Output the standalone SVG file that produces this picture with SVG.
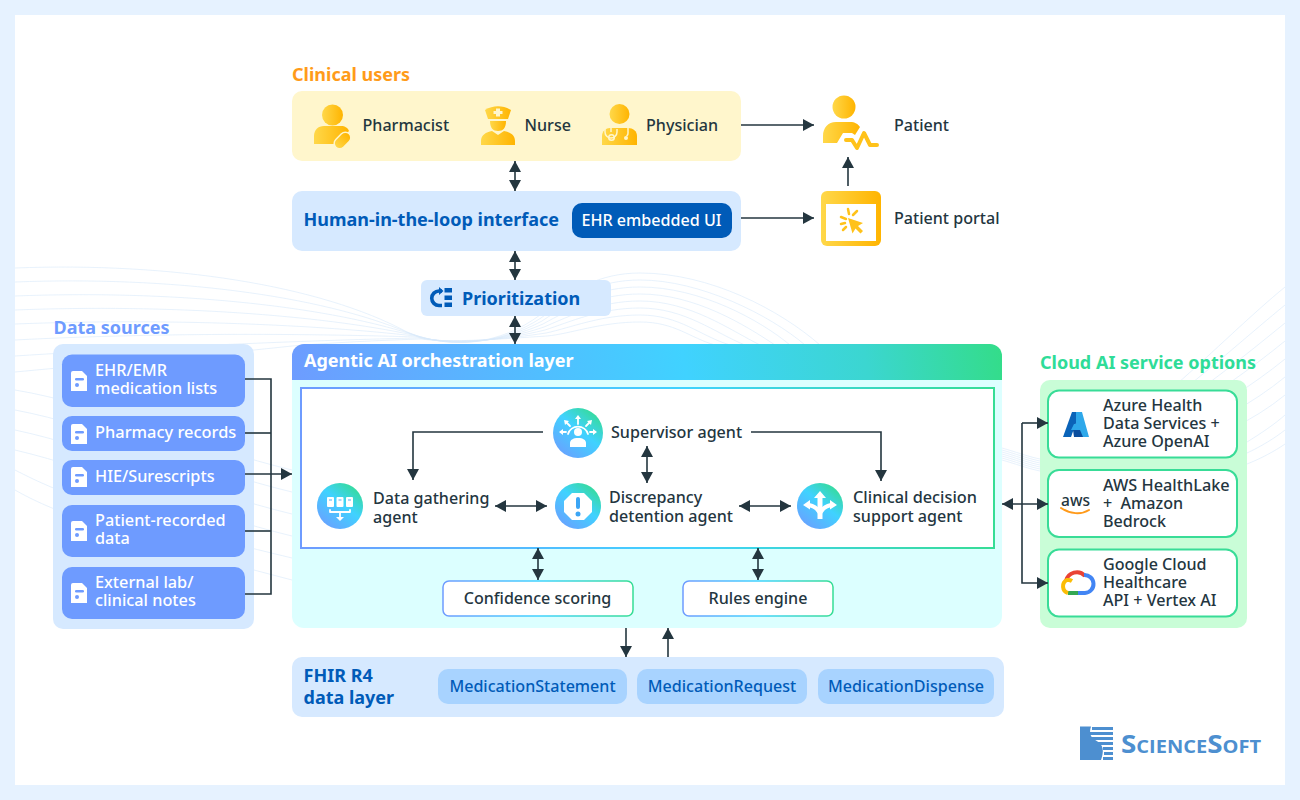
<svg xmlns="http://www.w3.org/2000/svg" width="1300" height="800" viewBox="0 0 1300 800">
<style>
text{font-family:"Noto Sans","Open Sans","Liberation Sans",sans-serif;font-size:16.1px;font-weight:500;fill:#24363f}
.h{font-size:18px;font-weight:700}
.w{fill:#fff}
.s{font-size:16.25px}
.b{fill:#005bb8}
.m{text-anchor:middle}
.con{fill:none;stroke:#24363f;stroke-width:1.6}
.one{marker-end:url(#ah)}
.two{marker-start:url(#ah);marker-end:url(#ah)}
.wave{fill:none;stroke:#d8e9fa;stroke-width:1;opacity:.6}
.src{fill:#6e9bff}
.cloud{fill:#fff;stroke:#38dc97;stroke-width:2}
.chip{fill:#a8d3ff}
.ico{fill:url(#gold)}
.wg{fill:#fff}
.wl{fill:none;stroke:#fff;stroke-width:1.8;stroke-linecap:round;stroke-linejoin:round}
</style>
<defs>
<marker id="ah" markerUnits="userSpaceOnUse" markerWidth="12" markerHeight="12" refX="11" refY="6" orient="auto-start-reverse"><path d="M0 0L11 6L0 12z" fill="#24363f"/></marker>
<linearGradient id="gold" x1="0" y1="0" x2="1" y2="0"><stop offset="0" stop-color="#ffd84a"/><stop offset="1" stop-color="#ffb400"/></linearGradient>
<linearGradient id="head" gradientUnits="userSpaceOnUse" x1="292" y1="420" x2="1002" y2="300"><stop offset="0" stop-color="#6e9bff"/><stop offset=".55" stop-color="#40d2ff"/><stop offset=".8" stop-color="#3bd6d0"/><stop offset="1" stop-color="#33dd85"/></linearGradient>
<linearGradient id="inner" gradientUnits="userSpaceOnUse" x1="301" y1="0" x2="994" y2="0"><stop offset="0" stop-color="#6e9bff"/><stop offset=".55" stop-color="#40d2ff"/><stop offset="1" stop-color="#36dd95"/></linearGradient>
<linearGradient id="small" x1="0" y1="0" x2="1" y2="0"><stop offset="0" stop-color="#6e9bff"/><stop offset=".5" stop-color="#40d2ff"/><stop offset="1" stop-color="#36dd95"/></linearGradient>
<linearGradient id="disc" x1="0.1" y1="1" x2="0.9" y2="0"><stop offset="0" stop-color="#6e9bff"/><stop offset=".55" stop-color="#40d2ff"/><stop offset="1" stop-color="#33dd85"/></linearGradient>
<g id="doc"><path d="M2 0h9l5 5v15H0V2a2 2 0 0 1 2-2z" fill="#fff"/><rect x="4" y="7" width="9" height="2.6" rx="1.3" fill="#6e9bff"/><circle cx="6" cy="14" r="2" fill="#6e9bff"/></g>
</defs>

<rect width="1300" height="800" fill="#e6f2ff"/>
<rect x="15" y="15" width="1270" height="770" fill="#fff"/>

<g id="waves">
<path class="wave" d="M15 268C170 262 320 285 407 332C450 350 500 345 540 315C570 290 600 273 640 273C710 273 780 310 820 345"/>
<path class="wave" d="M15 282C170 276 320 295 409 333C450 349 500 345 541 318C570 296 600 280 640 280C700 280 770 315 805 345"/>
<path class="wave" d="M15 296C170 290 320 305 411 334C450 348 500 344 542 321C570 302 600 287 640 287C700 287 760 320 790 345"/>
<path class="wave" d="M15 310C170 304 320 315 413 335C450 347 500 343 543 324C570 309 600 294 640 294C695 294 745 325 775 345"/>
<path class="wave" d="M15 324C170 318 320 325 415 336C450 346 500 342 544 327C570 316 600 301 640 301C690 301 730 330 760 345"/>
<path class="wave" d="M15 340C170 332 320 334 417 337C450 345 500 341 545 330C570 322 600 308 640 308C685 308 715 333 745 345"/>
<path class="wave" d="M15 356C170 346 320 340 419 338C450 344 500 340 546 333C570 328 600 315 640 315C680 315 700 336 730 345"/>
<path class="wave" d="M15 372C120 362 200 356 292 346C340 342 390 340 421 339C450 343 500 339 547 336C570 334 600 322 640 322C675 322 690 338 715 345"/>
<path class="wave" d="M15 390C100 404 200 448 292 470"/>
<path class="wave" d="M15 410C100 426 200 470 292 492"/>
<path class="wave" d="M15 430C100 448 200 492 292 514"/>
<path class="wave" d="M15 450C100 470 200 514 292 536"/>
<path class="wave" d="M15 470C50 488 100 512 292 558"/>
<path class="wave" d="M15 490C50 510 100 530 292 580"/>
<path class="wave" d="M1002 448C1030 456 1045 464 1065 458C1130 440 1220 340 1285 287"/>
<path class="wave" d="M1002 450C1030 458 1045 466 1065 460C1130 444 1220 358 1285 305"/>
<path class="wave" d="M1002 452C1030 460 1045 468 1065 462C1130 448 1220 376 1285 323"/>
<path class="wave" d="M1002 454C1030 462 1045 470 1065 464C1130 452 1220 394 1285 341"/>
<path class="wave" d="M1002 456C1030 464 1045 472 1065 466C1130 456 1220 412 1285 359"/>
<path class="wave" d="M1002 458C1030 466 1045 474 1065 468C1130 460 1220 430 1285 377"/>
<path class="wave" d="M1002 460C1030 468 1045 476 1065 470C1130 464 1220 448 1285 395"/>
<path class="wave" d="M1247 442C1260 434 1275 424 1285 415"/>
<path class="wave" d="M1247 453C1260 447 1275 438 1285 430"/>
<path class="wave" d="M1247 464C1260 459 1275 451 1285 444"/>
</g>

<g id="clinical-users">
<text class="h" x="292" y="81" style="fill:#ff9b1a">Clinical users</text>
<rect x="292" y="91" width="449" height="70" rx="10" fill="#fff6cc"/>
</g>
<g id="pharmacist">
<circle class="ico" cx="332.500" cy="115" r="10.500"/>
<path class="ico" d="M314 144v-8c0-6 4-10 10-10h17c4 0 7 2 8 5l-13 13z"/>
<rect class="ico" x="333" y="135" width="19" height="11" rx="5.500" transform="rotate(-45 342.500 140.500)" stroke="#fff6cc" stroke-width="1.500"/>
<text x="362.500" y="131">Pharmacist</text>
</g>
<g id="nurse">
<path class="ico" d="M485 110c8-5 18-5 26 0l-3 9h-20z"/>
<path d="M496 110.500h4v2.500h2.500v3h-2.500v2.500h-4v-2.500h-2.500v-3h2.500z" fill="#fff6cc" transform="translate(0 -2)"/>
<path class="ico" d="M490 121h16c0 7-3 10-8 10s-8-3-8-10z"/>
<path class="ico" d="M481 145v-4c0-6 5-9 11-10l6 4l6-4c6 1 11 4 11 10v4z"/>
<text x="524.500" y="131">Nurse</text>
</g>
<g id="physician">
<circle class="ico" cx="619.500" cy="114" r="10"/>
<path class="ico" d="M602 145v-9c0-5 4-8 8-8h18c5 0 9 3 9 8v9z"/>
<path d="M611 128v4M628 128v5a3 3 0 0 1-1.500 3" fill="none" stroke="#fff6cc" stroke-width="1.500"/>
<path d="M605 130v3a3 3 0 0 0 12 0v-3" fill="none" stroke="#fff6cc" stroke-width="1.500" transform="translate(0 -1)"/>
<circle cx="611.500" cy="137.500" r="2.800" fill="none" stroke="#fff6cc" stroke-width="1.500"/>
<circle cx="626" cy="138" r="2" fill="#fff6cc"/>
<text x="646" y="131">Physician</text>
</g>
<g id="patient">
<circle class="ico" cx="844" cy="107" r="11.500"/>
<path class="ico" d="M823 143v-7c0-8 5-14 13-14h14c5 0 8 2 10 5l-5 8l-3-2h-9l-6 10z"/>
<path d="M846 140h6l5 8l7-15l6 12h7" fill="none" stroke="#ffc21a" stroke-width="4" stroke-linecap="round" stroke-linejoin="round"/>
<text x="894" y="131">Patient</text>
</g>
<g id="hitl">
<rect x="292" y="191" width="449" height="60" rx="10" fill="#d6e9ff"/>
<text class="h b" x="303.500" y="226">Human-in-the-loop interface</text>
</g>
<g id="ehr-ui">
<rect x="572" y="203" width="160" height="35" rx="10" fill="#005bb8"/>
<text class="w m" x="651.500" y="226">EHR embedded UI</text>
</g>
<g id="patient-portal">
<rect class="ico" x="821" y="191" width="60" height="55" rx="6"/>
<rect x="826" y="204" width="50" height="37" fill="#fff"/>
<path d="M848 218l15 5l-5 3l5 5l-2.500 2.500l-5-5l-3 5z" fill="#ffc21a"/>
<path d="M846 219l-5-2M849 214l-1-5M853 215l4-4M845 223l-4 1M846 227l-3 3" fill="none" stroke="#ffc21a" stroke-width="2.500" stroke-linecap="round"/>
<text x="894" y="224">Patient portal</text>
</g>
<g id="prioritization">
<rect x="421" y="280" width="190" height="36" rx="6" fill="#d6e9ff"/>
<path d="M442 291h-3a7 7 0 0 0 0 14.500h3" fill="none" stroke="#005bb8" stroke-width="3.600"/>
<path d="M439 287l4.500 4l-4.500 4z" fill="#005bb8"/>
<rect x="444.500" y="288" width="7.500" height="4.500" fill="#005bb8"/><rect x="444.500" y="295.500" width="7.500" height="4.500" fill="#005bb8"/><rect x="444.500" y="302.500" width="7.500" height="4.500" fill="#005bb8"/>
<text class="h b" x="462" y="305">Prioritization</text>
</g>

<g id="data-sources">
<text class="h" x="53.500" y="334" style="fill:#6e9bff">Data sources</text>
<rect x="53" y="344" width="201" height="285" rx="10" fill="#d6e9ff"/>
</g>
<g id="src-ehr"><rect class="src" x="62" y="354.500" width="183" height="52.500" rx="10"/><use href="#doc" x="71" y="371"/><text class="w s" x="95" y="376">EHR/EMR</text><text class="w s" x="95" y="394">medication lists</text></g>
<g id="src-pharmacy"><rect class="src" x="62" y="416" width="183" height="35" rx="10"/><use href="#doc" x="71" y="424"/><text class="w" x="95" y="438" style="font-size:16.4px">Pharmacy records</text></g>
<g id="src-hie"><rect class="src" x="62" y="460" width="183" height="35" rx="10"/><use href="#doc" x="71" y="467"/><text class="w s" x="95" y="482">HIE/Surescripts</text></g>
<g id="src-patient"><rect class="src" x="62" y="505" width="183" height="52" rx="10"/><use href="#doc" x="71" y="521"/><text class="w s" x="95" y="526">Patient-recorded</text><text class="w s" x="95" y="544">data</text></g>
<g id="src-lab"><rect class="src" x="62" y="567" width="183" height="52" rx="10"/><use href="#doc" x="71" y="583"/><text class="w s" x="95" y="588">External lab/</text><text class="w s" x="95" y="606">clinical notes</text></g>

<g id="orchestration">
<path d="M292 380H1002V616a12 12 0 0 1-12 12H304a12 12 0 0 1-12-12z" fill="#dcffff"/>
<path d="M292 380V356a12 12 0 0 1 12-12H990a12 12 0 0 1 12 12V380z" fill="url(#head)"/>
<text class="h w" x="304" y="367">Agentic AI orchestration layer</text>
<rect x="301" y="388" width="693" height="160" fill="#fff" stroke="url(#inner)" stroke-width="2"/>
</g>
<g id="supervisor-agent">
<circle cx="578" cy="433" r="25" fill="url(#disc)"/>
<circle class="wg" cx="578" cy="432" r="4"/>
<path class="wg" d="M570 447v-4c0-3 3-5 8-5s8 2 8 5v4z"/>
<path d="M568 434a10.500 10.500 0 0 1 20 0" class="wl"/>
<path class="wl" d="M578 424v-6M570 426l-4-4M586 426l4-4M566 432h-5M590 432h5"/>
<path class="wg" d="M578 415l3 4h-6zM564 420l5 1l-4 4zM592 420l-5 1l4 4zM559 432l4-3v6zM597 432l-4-3v6z"/>
<text x="611" y="438">Supervisor agent</text>
</g>
<g id="data-gathering-agent">
<circle cx="340" cy="506" r="23" fill="url(#disc)"/>
<rect class="wg" x="327" y="497" width="7" height="10" rx="1"/><rect class="wg" x="336.500" y="497" width="7" height="10" rx="1"/><rect class="wg" x="346" y="497" width="7" height="10" rx="1"/>
<path d="M329 500h3M338.500 500h3M348 500h3" stroke="#4fb0f5" stroke-width="1.200"/>
<path class="wl" d="M330 510v2h20v-2M340 512v6"/>
<path class="wg" d="M336 517h8l-4 4z"/>
<text x="373" y="504">Data gathering</text><text x="373" y="523">agent</text>
</g>
<g id="discrepancy-agent">
<circle cx="578" cy="506" r="23" fill="url(#disc)"/>
<path class="wg" d="M572 493h12l8 8v11l-8 8h-12l-8-8v-11z"/>
<rect x="576" y="497" width="4" height="12" rx="2" fill="#3ba5f5"/><circle cx="578" cy="514" r="2.500" fill="#3ba5f5"/>
<text x="609" y="503">Discrepancy</text><text x="609" y="522">detention agent</text>
</g>
<g id="clinical-agent">
<circle cx="820" cy="506" r="23" fill="url(#disc)"/>
<path d="M820 519V497" fill="none" stroke="#fff" stroke-width="5"/>
<path d="M820 513C818 509 814 506 809 505M820 513C822 509 826 506 831 505" fill="none" stroke="#fff" stroke-width="4"/>
<path class="wg" d="M820 491l6 7h-12zM803 505l7-5v9.500zM837 505l-7-5v9.500z"/>
<text x="853" y="503" style="font-size:16.3px">Clinical decision</text><text x="853" y="522">support agent</text>
</g>
<g id="confidence-scoring">
<rect x="443" y="581" width="190" height="35" rx="6" fill="#fff" stroke="url(#small)" stroke-width="1.500"/>
<text class="m" x="537.500" y="604">Confidence scoring</text>
</g>
<g id="rules-engine">
<rect x="683" y="581" width="150" height="35" rx="6" fill="#fff" stroke="url(#small)" stroke-width="1.500"/>
<text class="m" x="758" y="604">Rules engine</text>
</g>

<g id="fhir">
<rect x="292" y="657" width="712" height="60" rx="10" fill="#d6e9ff"/>
<text class="h b" x="303.500" y="682">FHIR R4</text><text class="h b" x="303.500" y="704">data layer</text>
</g>
<g id="med-statement"><rect class="chip" x="438" y="669" width="189" height="35" rx="10"/><text class="m b" x="532.500" y="692">MedicationStatement</text></g>
<g id="med-request"><rect class="chip" x="637" y="669" width="170" height="35" rx="10"/><text class="m b" x="722" y="692">MedicationRequest</text></g>
<g id="med-dispense"><rect class="chip" x="818" y="669" width="176" height="35" rx="10"/><text class="m b" x="906" y="692">MedicationDispense</text></g>

<g id="cloud-options">
<text class="h" x="1040" y="369" style="fill:#2fdc98">Cloud AI service options</text>
<rect x="1040" y="380" width="207" height="248" rx="10" fill="#c9fdd7"/>
</g>
<g id="cloud-azure">
<rect class="cloud" x="1048" y="390.500" width="189" height="67" rx="11"/>
<path d="M1072 412h8l-9 25h-8z" fill="#0a63b8"/>
<path d="M1076 412h6l7 25h-9l-3-7h-6l3-6h2z" fill="#2ea8ea"/>
<path d="M1073 430h7l3 7h-9z" fill="#0b4e9e"/>
<text x="1103" y="411">Azure Health</text><text x="1103" y="429">Data Services +</text><text x="1103" y="447">Azure OpenAI</text>
</g>
<g id="cloud-aws">
<rect class="cloud" x="1048" y="470" width="189" height="67" rx="11"/>
<text x="1061" y="506" textLength="29" lengthAdjust="spacingAndGlyphs" style="font-size:16px;font-weight:500">aws</text>
<path d="M1061 508c9 6 20 7 28 2" fill="none" stroke="#ff9a1a" stroke-width="2" stroke-linecap="round"/>
<text x="1103" y="491" style="font-size:16.3px">AWS HealthLake</text><text x="1103" y="509" xml:space="preserve">+  Amazon</text><text x="1103" y="527">Bedrock</text>
</g>
<g id="cloud-google">
<rect class="cloud" x="1048" y="549.500" width="189" height="67" rx="11"/>
<path d="M1066 581a11 11 0 0 1 19-5" fill="none" stroke="#ea4335" stroke-width="4"/>
<path d="M1084 575a8 8 0 0 1 1 18h-8" fill="none" stroke="#4285f4" stroke-width="4"/>
<path d="M1078 593h-10" fill="none" stroke="#34a853" stroke-width="4"/>
<path d="M1068 593a7 7 0 0 1-1-13a7 7 0 0 1 5 1" fill="none" stroke="#fbbc05" stroke-width="4"/>
<text x="1103" y="570">Google Cloud</text><text x="1103" y="588">Healthcare</text><text x="1103" y="606">API + Vertex AI</text>
</g>

<g id="logo">
<path d="M1080 726.500h11c-2 6-1 11 5 14c8 4 8 11 5 19.500h-21z" fill="#4d8fd0"/>
<path d="M1092 727h21v3h-21zM1090 732h23v3h-23zM1091 737h22v3h-22zM1097 742h16v3h-16zM1103 747h10v3h-10zM1104 752h9v3h-9zM1103 757h10v3h-10z" fill="#4d8fd0"/>
<text x="1121" y="753" style="font-family:'Open Sans',sans-serif;font-size:25px;font-weight:700;font-variant:small-caps;fill:#4d8fd0" textLength="140" lengthAdjust="spacingAndGlyphs">ScienceSoft</text>
</g>

<g id="connectors">
<path class="con one" d="M741 125H814"/>
<path class="con one" d="M741 218H814"/>
<path class="con one" d="M848 186V157"/>
<path class="con two" d="M515 161V191"/>
<path class="con two" d="M515 251V280"/>
<path class="con two" d="M515 316V344"/>
<path class="con" d="M245 379H271V594H245"/>
<path class="con" d="M245 433H271"/>
<path class="con" d="M245 531H271"/>
<path class="con one" d="M245 474H292"/>
<path class="con one" d="M543 432H413V480"/>
<path class="con one" d="M751 432H881V481"/>
<path class="con two" d="M647 446V483"/>
<path class="con two" d="M495 506H547"/>
<path class="con two" d="M739 506H791"/>
<path class="con two" d="M538 548V580"/>
<path class="con two" d="M758 548V580"/>
<path class="con one" d="M626 628V657"/>
<path class="con one" d="M668 657V628"/>
<path class="con two" d="M1002 504H1048"/>
<path class="con one" d="M1022 423V583H1048"/>
<path class="con one" d="M1022 423H1048"/>
</g>
</svg>
